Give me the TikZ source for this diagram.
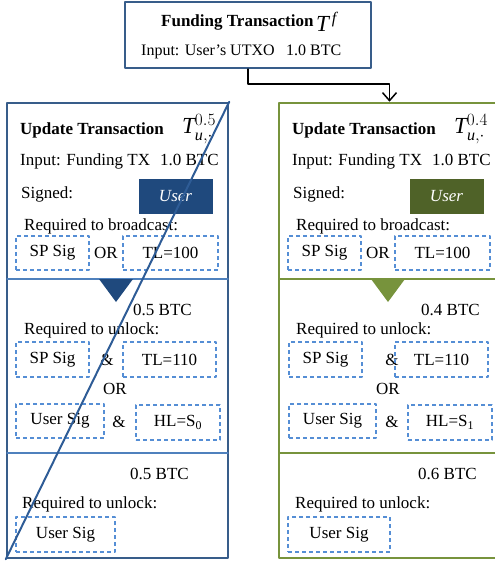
\documentclass[tikz,border=0pt]{standalone}
\usepackage{fontspec}
\setmainfont{Liberation Serif}
\usetikzlibrary{arrows.meta}
\usetikzlibrary{positioning}

\definecolor{blueln}{RGB}{56,93,138}
\definecolor{bluefill}{RGB}{31,73,125}
\definecolor{bluediv}{RGB}{79,129,189}
\definecolor{greenln}{RGB}{119,147,60}
\definecolor{greenfill}{RGB}{79,98,40}
\definecolor{sigdash}{RGB}{85,142,213}
\definecolor{slash}{RGB}{46,92,150}

\begin{document}
\begin{tikzpicture}[line cap=round,line join=round,x=1bp,y=-1bp,
  txt/.style={anchor=base west,inner sep=0pt,font=\fontsize{17bp}{20bp}\selectfont},
  mid/.style={inner sep=0pt,font=\fontsize{17bp}{20bp}\selectfont},
  bigT/.style={anchor=base west,inner sep=0pt,font=\fontsize{23bp}{25bp}\selectfont},
  sigbox/.style={draw=sigdash,line width=1.2bp,line cap=butt,dash pattern=on 4bp off 3bp,
    minimum height=34bp,inner sep=0pt,font=\fontsize{17bp}{20bp}\selectfont},
  userbox/.style={minimum width=74bp,minimum height=35bp,inner sep=0pt,text=white,
    font=\fontsize{17bp}{20bp}\selectfont\itshape},
  txbox/.style={minimum width=221bp,minimum height=455bp,inner sep=0pt,line width=2.5bp}]
\useasboundingbox (0,0) rectangle (495,563);
\clip (0,0) rectangle (495,563);
% funding transaction
\node[draw=blueln,line width=2.2bp,minimum width=246bp,minimum height=66bp,inner sep=0pt] (fund) at (248,35) {};
\node[txt,font=\fontsize{17bp}{20bp}\selectfont\bfseries] (fundtitle) at (161,27) {Funding Transaction};
\node[bigT] (fundT) at (316,32) {$\mathit{T}^{\,\mathit{f}}$};
\node[txt,font=\fontsize{16bp}{19bp}\selectfont] (fundin) at (141,56) {Input: User’s UTXO};
\node[txt,font=\fontsize{16bp}{19bp}\selectfont] (fundamt) at (286,56) {1.0 BTC};
% update transactions
\node[draw=blueln,txbox] (upd0) at (117.5,330.5) {};
\node[draw=greenln,txbox] (upd1) at (389.5,330.5) {};
\draw[line width=1.5bp,-{Straight Barb[length=8bp,width=14bp]}] (fund.south) -- ++(0,15) -| (upd1.north);
\draw[bluediv,line width=1.3bp] (7,279)-- (228,279);
\draw[bluediv,line width=1.3bp] (7,453)-- (228,453);
\draw[greenln,line width=1.3bp] (279,279)-- (500,279);
\draw[greenln,line width=1.3bp] (279,453)-- (500,453);
\fill[bluefill] (99,279)-- (133,279)-- (116,302)-- cycle;
\fill[greenln] (371,279)-- (405,279)-- (388,302)-- cycle;
% left: 0.5 BTC
\node[txt,font=\fontsize{17bp}{20bp}\selectfont\bfseries] (updtitle0) at (20,135) {Update Transaction};
\node[bigT] (updT0) at (182,134) {$\mathit{T}^{0.5}_{\mathit{u},\cdot}$};
\node[txt] (updin0) at (20,166) {Input: Funding TX\hspace{10bp}1.0 BTC};
\node[txt] (signed0) at (21,198) {Signed:};
\node[userbox,fill=bluefill] (user0) at (175.5,196.5) {User};
\node[txt] (reqb0) at (24,230) {Required to broadcast:};
\node[sigbox,minimum width=73bp] (spsiga0) at (52.5,253) {SP Sig};
\node[mid] (ora0) at (106,253) {OR};
\node[sigbox,minimum width=95bp] (tla0) at (170.5,253) {TL=100};
\node[txt] (amta0) at (133,315) {0.5 BTC};
\node[txt] (requa0) at (24,334) {Required to unlock:};
\node[sigbox,minimum width=73bp,minimum height=35bp] (spsigb0) at (52.5,359.5) {SP Sig};
\node[mid] (anda0) at (107,359.5) {\&};
\node[sigbox,minimum width=93bp,minimum height=35bp] (tlb0) at (169.5,359.5) {TL=110};
\node[mid] (orb0) at (115,389) {OR};
\node[sigbox,minimum width=88bp] (usiga0) at (60,421) {User Sig};
\node[mid] (andb0) at (119,422) {\&};
\node[sigbox,minimum width=84bp,minimum height=35bp] (hl0) at (178,422.5) {HL=S\textsubscript{0}};
\node[txt] (amtb0) at (130,479) {0.5 BTC};
\node[txt] (requb0) at (22,508) {Required to unlock:};
\node[sigbox,minimum width=99bp,minimum height=35bp] (usigb0) at (65.5,534.5) {User Sig};
% right: 0.4 BTC
\node[txt,font=\fontsize{17bp}{20bp}\selectfont\bfseries] (updtitle1) at (292,135) {Update Transaction};
\node[bigT] (updT1) at (454,134) {$\mathit{T}^{0.4}_{\mathit{u},\cdot}$};
\node[txt] (updin1) at (292,166) {Input: Funding TX\hspace{10bp}1.0 BTC};
\node[txt] (signed1) at (293,198) {Signed:};
\node[userbox,fill=greenfill] (user1) at (446.5,196) {User};
\node[txt] (reqb1) at (296,230) {Required to broadcast:};
\node[sigbox,minimum width=73bp] (spsiga1) at (324.5,253) {SP Sig};
\node[mid] (ora1) at (378,253) {OR};
\node[sigbox,minimum width=95bp] (tla1) at (442.5,253) {TL=100};
\node[txt] (amta1) at (421,315) {0.4 BTC};
\node[txt] (requa1) at (296,334) {Required to unlock:};
\node[sigbox,minimum width=73bp,minimum height=35bp] (spsigb1) at (325.5,359.5) {SP Sig};
\node[mid] (anda1) at (392,359.5) {\&};
\node[sigbox,minimum width=93bp,minimum height=35bp] (tlb1) at (441.5,359.5) {TL=110};
\node[mid] (orb1) at (388,389) {OR};
\node[sigbox,minimum width=87bp] (usiga1) at (332.5,421) {User Sig};
\node[mid] (andb1) at (392,422) {\&};
\node[sigbox,minimum width=84bp,minimum height=35bp] (hl1) at (450,422.5) {HL=S\textsubscript{1}};
\node[txt] (amtb1) at (418,479) {0.6 BTC};
\node[txt] (requb1) at (295,508) {Required to unlock:};
\node[sigbox,minimum width=102bp,minimum height=35bp] (usigb1) at (339,534.5) {User Sig};
% struck out
\draw[slash,line width=2bp] (upd0.south west)-- (upd0.north east);
\end{tikzpicture}
\end{document}
